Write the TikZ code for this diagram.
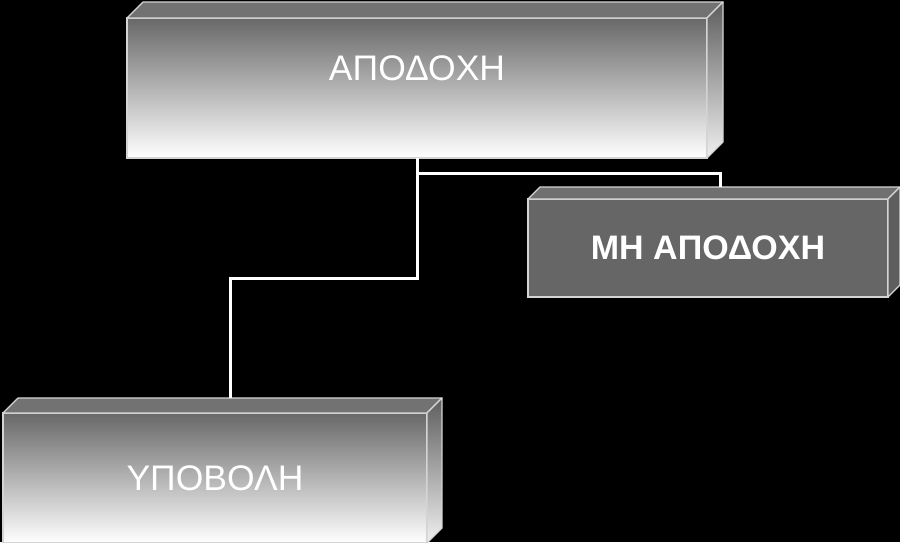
\documentclass[tikz,border=0pt]{standalone}
\usepackage{fontspec}
\setmainfont{Liberation Sans}
\usetikzlibrary{positioning,calc}
\definecolor{frontgray}{HTML}{686868}
\definecolor{topgray}{HTML}{727272}
\definecolor{flatgray}{HTML}{666666}
\definecolor{flattop}{HTML}{707070}
\definecolor{flatside}{HTML}{5E5E5E}
\definecolor{edgegray}{HTML}{D4D4D4}

\begin{document}
\begin{tikzpicture}[x=1pt,y=-1pt,
  slab/.style={inner sep=0pt,outer sep=0pt,draw=edgegray,line width=1.2pt},
  fade/.style={slab,top color=frontgray,bottom color=white},
  flat/.style={slab,fill=flatgray},
  topface/.style={draw=edgegray,line width=1.2pt,line join=round,fill=topgray},
  sidefade/.style={draw=edgegray,line width=1.2pt,line join=round,top color=frontgray!90!black,bottom color=white!94!black},
  flattopface/.style={draw=edgegray,line width=1.2pt,line join=round,fill=flattop},
  flatsideface/.style={draw=edgegray,line width=1.2pt,line join=round,fill=flatside},
  lbl/.style={text=white,font=\fontsize{35.5}{40}\selectfont},
  conn/.style={draw=white,line width=3pt}]
\useasboundingbox (0,0) rectangle (900,542);
\fill[black] (0,0) rectangle (900,542);

% the three slabs
\node[fade,minimum width=580pt,minimum height=140pt] (apo) at (417,88) {};
\node[flat,minimum width=360pt,minimum height=98pt] (mh) at (708,248) {};
\node[fade,minimum width=424pt,minimum height=130pt] (ypo) at (215,478) {};

\foreach \n/\d/\t/\s in {apo/16/topface/sidefade,mh/12/flattopface/flatsideface,ypo/15/topface/sidefade}{
  \path[\t] (\n.north west) -- ++(\d,-\d) -- ($(\n.north east)+(\d,-\d)$) -- (\n.north east) -- cycle;
  \path[\s] (\n.north east) -- ++(\d,-\d) -- ($(\n.south east)+(\d,-\d)$) -- (\n.south east) -- cycle;
}

\node[lbl] (apolbl) at ([yshift=20pt]apo.center) {ΑΠΟΔΟΧΗ};
\node[text=white,font=\bfseries\fontsize{34}{40}\selectfont] (mhlbl) at (mh.center) {ΜΗ ΑΠΟΔΟΧΗ};
\node[lbl] (ypolbl) at (ypo.center) {ΥΠΟΒΟΛΗ};

% connectors
\coordinate (mhtop) at ($(mh.north)+(12,-12)$);
\coordinate (ypotop) at ($(ypo.north)+(15,-15)$);
\draw[conn] (apo.south) -- ++(0,15) -| (mhtop);
\draw[conn] (apo.south) -- ++(0,120) -| (ypotop);
\end{tikzpicture}
\end{document}
